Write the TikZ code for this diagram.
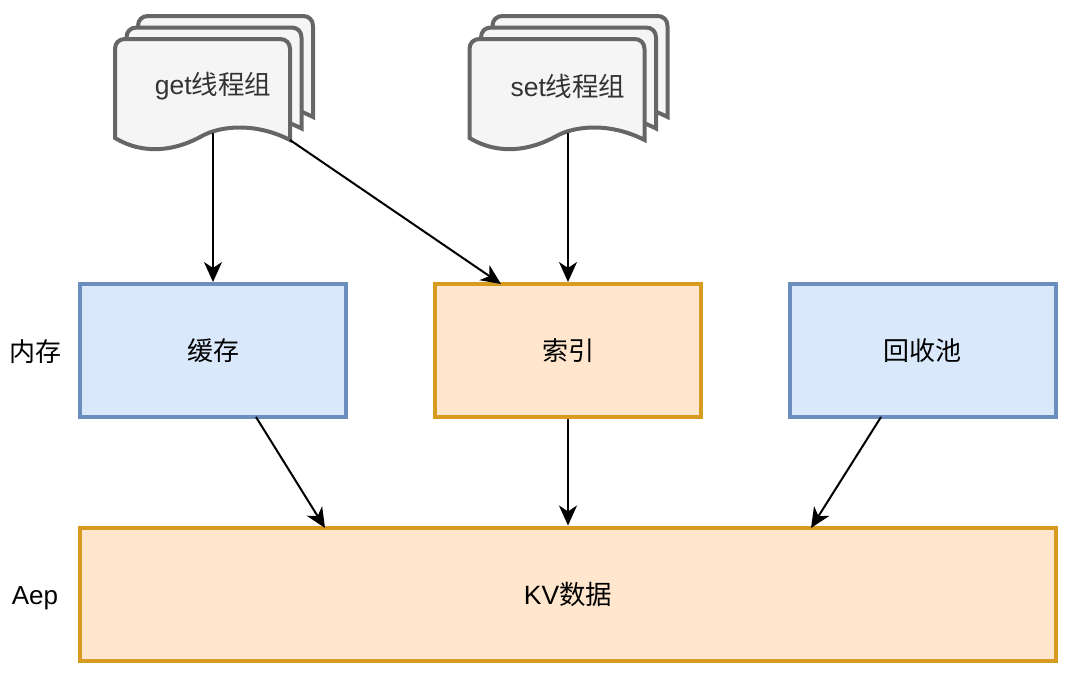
\documentclass[tikz,border=0pt]{standalone}
\usepackage{fontspec}
\setmainfont{Liberation Sans}
\newfontfamily\cjk{Noto Sans CJK SC}
\usetikzlibrary{arrows.meta}
\newcommand{\lowered}[1]{\raisebox{-10pt}[0pt][0pt]{#1}}

\begin{document}
\begin{tikzpicture}[x=1pt,y=-1pt]
		\tikzset{>={Stealth[length=20pt,width=18pt,inset=6pt]}}
		\tikzset{
			bluebox/.style={draw=blue1,fill=blue2,line width=4pt,minimum width=266pt,minimum height=133pt,font=\fontsize{26}{30}\selectfont\cjk},
			orangebox/.style={draw=orange1,fill=orange2,line width=4pt,minimum height=133pt,font=\fontsize{26}{30}\selectfont\cjk},
			sidelabel/.style={font=\fontsize{26}{30}\selectfont},
			doclabel/.style={text=black!80,minimum width=198pt,minimum height=94pt,font=\fontsize{26.5}{30}\selectfont},
			docpage/.style={draw=black!60,fill=black!4,line width=4pt,line join=miter},
			conn/.style={->,line width=2pt}
		}
		\definecolor{blue1}{HTML}{6C8EBF}
		\definecolor{blue2}{HTML}{DAE8FC}
		\definecolor{orange1}{HTML}{D79B20}
		\definecolor{orange2}{HTML}{FFE6CC}
		
		\useasboundingbox (0,0) rectangle (1068,672);
		
		% stacked pages, back to front
		\foreach \x in {115,469.5}{
			\foreach \d in {23,11.5,0}{
				\draw[docpage] ({\x+\d},{39-\d+10}) 
					.. controls ({\x+\d},{39-\d+4}) and ({\x+\d+4},{39-\d}) .. ({\x+\d+10},{39-\d})
					-- ({\x+\d+165},{39-\d})
					.. controls ({\x+\d+171},{39-\d}) and ({\x+\d+175},{39-\d+4}) .. ({\x+\d+175},{39-\d+10})
					-- ({\x+\d+175},{140-\d})
					.. controls ({\x+\d+140},{122-\d}) and ({\x+\d+105},{126-\d}) .. ({\x+\d+87},{136-\d})
					.. controls ({\x+\d+62},{150-\d}) and ({\x+\d+30},{156-\d}) .. ({\x+\d},{138-\d})
					-- cycle;
			}
		}
		
		\node[doclabel] (get) at (213,86) {get{\cjk 线程组}};
		\node[doclabel] (set) at (568,86) {set{\cjk 线程组}};
		
		\node[bluebox] (cache) at (213,350.5) {\lowered{缓存}};
		\node[orangebox,minimum width=266pt] (index) at (568,350.5) {\lowered{索引}};
		\node[bluebox] (pool) at (922.5,350.5) {\lowered{回收池}};
		\node[orangebox,minimum width=976pt] (kv) at (568,594) {\lowered{\fontsize{26.5}{30}\fontspec{Liberation Sans}KV{\cjk 数据}}};
		
		\node[sidelabel] (mem) at (35.5,352) {\cjk 内存};
		\node[sidelabel] (aep) at (35,598) {Aep};
		
		\coordinate (getcorner) at (290,140);
		\coordinate (indexin) at (501,284);
		\coordinate (cacheout) at (256,417);
		\coordinate (kvleft) at (325,528);
		\coordinate (poolout) at (881,417);
		\coordinate (kvright) at (811,528);
		
		\draw[conn] (get.south) -- (cache.north);
		\draw[conn] (getcorner) -- (indexin);
		\draw[conn] (set.south) -- (index.north);
		\draw[conn] (cacheout) -- (kvleft);
		\draw[conn] (index.south) -- (kv.north);
		\draw[conn] (poolout) -- (kvright);
		
	\end{tikzpicture}
\end{document}
